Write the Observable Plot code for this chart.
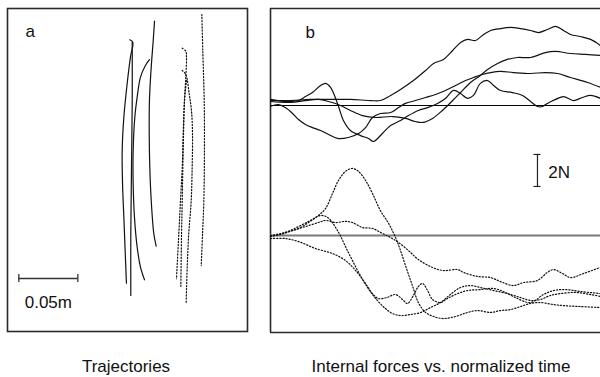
<!DOCTYPE html>
<html><head><meta charset="utf-8">
<script src="https://cdn.jsdelivr.net/npm/d3@7"></script>
<script src="https://cdn.jsdelivr.net/npm/@observablehq/plot@0.6"></script>
<style>
html,body{margin:0;padding:0;background:#fff;}
#fig{position:relative;width:600px;height:377px;overflow:hidden;font-family:"Liberation Sans",Arial,Helvetica,sans-serif;}
#fig svg{position:absolute;background:transparent;}
.cap{position:absolute;top:357px;height:20px;line-height:20px;font-size:17px;color:#111;white-space:nowrap;transform:translateX(-50%);}
</style></head><body><div id="fig"></div>
<script>
// ---------- Panel a: trajectories (x, y in cm) ----------
const trajSolid1 = [[10.36,24.72],[10.62,24.52],[10.42,23.25],[10.14,20.99],[9.86,18.16],[9.72,15.34],[9.75,12.52],[9.86,9.69],[9.97,6.86],[10.08,4.09]];
const trajSolid2 = [[10.57,24.52],[10.57,19.58],[10.51,13.92],[10.45,8.28],[10.45,3.05]];
const trajSolid3 = [[12.46,26.3],[12.35,24.66],[12.18,22.4],[12.03,19.58],[12.01,16.75],[12.06,13.92],[12.18,11.1],[12.4,8.28],[12.6,7.23]];
const trajSolid4 = [[12.03,23.03],[11.69,22.54],[11.27,21.55],[10.99,19.86],[10.79,18.16],[10.65,15.34],[10.65,12.52],[10.76,9.69],[10.99,7.14],[11.27,5.45],[11.61,4.38]];
const trajDotted1 = [[16.47,26.86],[16.55,23.81],[16.67,19.58],[16.69,15.34],[16.64,11.1],[16.53,8.28],[16.42,5.59]];
const trajDotted2 = [[14.81,24.01],[15.11,23.75],[15.17,23.25],[15.11,21.55],[15.0,19.58],[14.92,16.75],[14.86,13.92],[14.81,11.1],[14.75,8.28],[14.69,3.75]];
const trajDotted3 = [[14.81,22.12],[15.11,21.78],[15.4,20.14],[15.59,18.73],[15.68,16.75],[15.65,13.92],[15.57,11.1],[15.36,8.28],[15.23,5.45],[15.14,2.43]];
const trajDotted4 = [[15.17,21.27],[15.0,19.58],[14.89,16.75],[14.81,13.92],[14.66,11.1],[14.52,8.28],[14.32,4.47]];
const lengthBarCm = 5;          // 0.05 m
const lengthBarLabel = "0.05m";

// ---------- Panel b: internal forces (t in % of movement, F in N) ----------
const solidForce1 = [[0,0.31],[6.1,0.31],[12.1,0.38],[18.2,0.38],[24.2,0.38],[30.3,0.31],[33.3,0.31],[36.4,0.63],[39.4,1.0],[43.3,1.56],[47.0,2.19],[49.4,2.63],[52.4,2.88],[55.2,3.44],[57.6,3.94],[59.7,4.13],[62.1,4.06],[64.2,4.38],[66.7,4.69],[69.7,4.81],[72.7,4.88],[75.8,4.81],[78.8,4.69],[81.2,4.56],[83.9,4.75],[86.4,4.94],[88.8,4.69],[90.9,4.44],[93.9,4.31],[97.0,4.13],[100,3.75]];
const solidForce2 = [[0,0.25],[6.1,0.19],[10.6,0.31],[14.5,0.38],[17.6,0.25],[21.2,0.0],[24.2,-0.31],[27.9,-0.63],[31.8,-0.75],[37.0,-0.69],[40.9,-0.81],[43.9,-1.0],[46.1,-1.06],[49.1,-0.81],[52.1,-0.31],[55.2,0.31],[57.6,0.81],[60.6,1.44],[63.6,1.88],[65.8,2.25],[68.8,2.63],[71.8,2.88],[74.8,3.0],[78.8,3.0],[83.3,3.31],[86.4,3.38],[90.9,3.25],[95.5,3.19],[100,3.13]];
const solidForce3 = [[0,-0.05],[2.4,0.06],[4.5,-0.13],[6.7,-0.5],[8.5,-0.88],[10.6,-1.19],[12.7,-1.38],[15.2,-1.56],[17.6,-1.81],[20.3,-2.06],[23.6,-2.0],[26.7,-1.75],[28.8,-1.38],[30.9,-0.75],[33.3,-0.5],[36.4,-0.44],[38.8,-0.13],[40.9,0.13],[43.9,0.31],[47.0,0.5],[50.0,0.69],[53.0,0.94],[56.1,1.25],[59.1,1.56],[61.5,1.75],[64.2,1.94],[66.7,2.06],[69.7,2.13],[73.6,2.06],[78.8,2.0],[83.3,2.06],[87.0,2.0],[90.9,1.75],[96.1,1.44],[100,1.13]];
const solidForce4 = [[0,0.38],[4.5,0.25],[8.5,0.31],[10.6,0.56],[12.7,0.81],[15.2,1.25],[16.7,1.38],[18.2,1.13],[20.3,0.13],[22.1,-0.94],[24.2,-1.56],[27.3,-1.88],[29.7,-2.06],[31.2,-2.25],[33.9,-1.75],[36.4,-1.25],[39.4,-0.94],[41.8,-0.63],[44.8,-0.31],[47.6,-0.13],[50.6,0.13],[53.0,0.44],[55.5,0.94],[57.6,0.75],[59.7,0.44],[61.5,0.63],[63.6,1.38],[65.8,1.56],[67.6,1.25],[69.7,0.94],[73.3,0.81],[76.4,0.63],[78.8,0.25],[80.9,-0.06],[82.4,-0.06],[83.9,0.13],[86.4,0.38],[88.8,0.56],[91.8,0.31],[94.5,0.5],[97.0,0.63],[100,0.44]];
const dottedForce1 = [[0,0],[4.5,0.19],[8.5,0.44],[11.5,0.81],[14.5,1.25],[16.7,1.69],[18.8,2.63],[20.6,3.44],[22.7,4.0],[24.8,4.19],[26.7,4.0],[28.8,3.44],[30.9,2.63],[33.3,1.56],[35.8,0.75],[37.9,-0.13],[39.4,-0.94],[40.9,-1.88],[43.0,-3.13],[44.8,-4.19],[47.0,-4.81],[49.4,-5.06],[52.4,-5.19],[56.1,-5.06],[59.7,-4.81],[62.7,-4.69],[66.7,-4.81],[69.7,-4.69],[72.7,-4.63],[75.8,-4.44],[78.8,-4.25],[81.8,-4.19],[85.5,-4.31],[88.8,-4.38],[93.9,-4.44],[100,-4.5]];
const dottedForce2 = [[0,-0.19],[4.5,-0.19],[8.5,-0.38],[13.6,-0.81],[18.8,-1.13],[22.7,-1.56],[25.8,-2.19],[28.8,-3.0],[30.9,-3.63],[32.7,-3.94],[35.2,-3.88],[37.9,-3.69],[40.0,-4.0],[41.5,-4.25],[43.3,-3.75],[44.8,-3.19],[46.1,-3.0],[47.6,-3.44],[49.1,-4.0],[51.5,-4.19],[53.6,-3.94],[56.7,-3.63],[59.7,-3.44],[63.6,-3.38],[67.6,-3.31],[71.2,-3.56],[74.2,-3.88],[78.8,-4.19],[82.7,-3.69],[85.8,-3.44],[89.4,-3.38],[93.9,-3.5],[100,-3.63]];
const dottedForce3 = [[0,-0.06],[3.0,0.06],[6.7,0.31],[10.6,0.56],[14.5,0.81],[16.7,0.94],[19.7,0.81],[22.7,0.88],[24.8,0.81],[27.9,0.5],[30.9,0.44],[33.9,0.13],[36.4,-0.13],[38.8,-0.44],[41.8,-0.94],[44.8,-1.5],[49.1,-2.0],[52.4,-2.19],[56.7,-2.13],[58.5,-2.31],[62.7,-2.56],[66.7,-2.63],[69.7,-2.88],[73.6,-3.13],[76.7,-2.94],[80.9,-2.81],[83.9,-2.31],[85.8,-2.13],[88.5,-2.38],[90.9,-2.63],[94.8,-2.38],[99.1,-2.06],[100,-2.0]];
const dottedForce4 = [[0,-0.06],[4.5,0.19],[8.5,0.56],[12.1,0.94],[15.2,1.25],[17.3,1.13],[20.3,0.31],[23.3,-0.94],[26.4,-2.19],[29.4,-3.25],[32.4,-4.06],[34.8,-4.56],[37.0,-4.88],[39.4,-5.0],[42.4,-4.94],[45.5,-4.81],[48.5,-4.5],[51.5,-4.19],[54.5,-3.69],[57.6,-3.25],[60.6,-3.13],[63.6,-3.25],[67.6,-3.44],[71.8,-3.63],[75.8,-3.88],[78.8,-4.06],[81.8,-4.0],[84.8,-3.75],[87.9,-3.63],[92.4,-3.56],[97.0,-3.69],[100,-3.81]];
const forceBarN = 2;
const forceBarLabel = "2N";
const panelLabels = ["a", "b"];
const captions = ["Trajectories", "Internal forces vs. normalized time"];

// ---------- build tables ----------
const toRows = (series, kx, ky) => series.flatMap((s, i) => s.map(([a, b]) => ({id: i, [kx]: a, [ky]: b})));
const trajSolidRows = toRows([trajSolid1, trajSolid2, trajSolid3, trajSolid4], "x", "y");
const trajDottedRows = toRows([trajDotted1, trajDotted2, trajDotted3, trajDotted4], "x", "y");
const solidRows = toRows([solidForce1, solidForce2, solidForce3, solidForce4], "t", "f");
const dottedRows = toRows([dottedForce1, dottedForce2, dottedForce3, dottedForce4], "t", "f");

const FONT = '"Liberation Sans", Arial, Helvetica, sans-serif';
const baseStyle = {fontFamily: FONT, fontSize: "17px", background: "transparent", overflow: "visible", color: "#111"};
const INK = "#111", FRAME = "#2a2a2a", DOTS = "1.2 1.9";
const fig = document.getElementById("fig");

function place(svg, left, top) {
  svg.style.left = left + "px";
  svg.style.top = top + "px";
  fig.appendChild(svg);
}

// Panel a
const barX0 = 0.96, barY = 4.49;
const pa = Plot.plot({
  width: 255, height: 340,
  marginLeft: 7, marginRight: 8, marginTop: 8, marginBottom: 9,
  style: baseStyle,
  x: {domain: [0, 20.34], axis: null},
  y: {domain: [0, 27.37], axis: null},
  marks: [
    Plot.frame({stroke: FRAME, strokeWidth: 1.6}),
    Plot.line(trajSolidRows, {x: "x", y: "y", z: "id", stroke: INK, strokeWidth: 1.2, curve: "catmull-rom"}),
    Plot.line(trajDottedRows, {x: "x", y: "y", z: "id", stroke: INK, strokeWidth: 1.2, strokeDasharray: DOTS, curve: "catmull-rom"}),
    Plot.ruleY([barY], {x1: barX0, x2: barX0 + lengthBarCm, stroke: "#333", strokeWidth: 1.3}),
    Plot.ruleX([barX0, barX0 + lengthBarCm], {y1: barY - 0.34, y2: barY + 0.34, stroke: "#333", strokeWidth: 1.3}),
    Plot.text([lengthBarLabel], {x: barX0 + lengthBarCm / 2, y: 2.03, text: d => d, textAnchor: "middle", lineAnchor: "bottom", fontSize: 17, fill: INK}),
    Plot.text([panelLabels[0]], {frameAnchor: "top-left", dx: 18, dy: 28, text: d => d, textAnchor: "start", lineAnchor: "bottom", fontSize: 17, fill: INK})
  ]
});
place(pa, 0, 0);

// Panel b, upper traces (solid)
const upperTop = 6.0625, upperBottom = -4.0625;
const barT = 80.9, barTop = -3.06;
const pbTop = Plot.plot({
  width: 338, height: 200,
  marginLeft: 8, marginRight: 0, marginTop: 8, marginBottom: 30,
  style: baseStyle,
  x: {domain: [0, 100], axis: null},
  y: {domain: [upperBottom, upperTop], axis: null},
  marks: [
    Plot.ruleX([0], {stroke: FRAME, strokeWidth: 1.6}),
    Plot.ruleY([upperTop], {stroke: FRAME, strokeWidth: 1.6}),
    Plot.ruleY([0], {stroke: "#000", strokeWidth: 1}),
    Plot.line(solidRows, {x: "t", y: "f", z: "id", stroke: INK, strokeWidth: 1.2, curve: "catmull-rom"}),
    Plot.text([panelLabels[1]], {frameAnchor: "top-left", dx: 35, dy: 29, text: d => d, textAnchor: "start", lineAnchor: "bottom", fontSize: 17, fill: INK}),
    Plot.ruleX([barT], {y1: barTop, y2: barTop - forceBarN, stroke: "#222", strokeWidth: 1.2}),
    Plot.ruleY([barTop, barTop - forceBarN], {x1: barT - 1.06, x2: barT + 1.06, stroke: "#222", strokeWidth: 1.2}),
    Plot.text([forceBarLabel], {x: 84.2, y: -4.5, text: d => d, textAnchor: "start", lineAnchor: "bottom", fontSize: 17, fill: INK})
  ]
});
place(pbTop, 262, 0);

// Panel b, lower traces (dotted)
const lowerTop = 4.0625, lowerBottom = -6.0625;
const pbBot = Plot.plot({
  width: 338, height: 170,
  marginLeft: 8, marginRight: 0, marginTop: 0, marginBottom: 8,
  style: baseStyle,
  x: {domain: [0, 100], axis: null},
  y: {domain: [lowerBottom, lowerTop], axis: null},
  marks: [
    Plot.ruleX([0], {stroke: FRAME, strokeWidth: 1.6}),
    Plot.ruleY([lowerBottom], {stroke: FRAME, strokeWidth: 1.6}),
    Plot.ruleY([0], {stroke: "#7a7a7a", strokeWidth: 2}),
    Plot.line(dottedRows, {x: "t", y: "f", z: "id", stroke: INK, strokeWidth: 1.2, strokeDasharray: DOTS, curve: "catmull-rom"})
  ]
});
place(pbBot, 262, 170);

// captions below the panels
[[captions[0], 126], [captions[1], 441]].forEach(([txt, cx]) => {
  const d = document.createElement("div");
  d.className = "cap";
  d.style.left = cx + "px";
  d.textContent = txt;
  fig.appendChild(d);
});
</script></body></html>
